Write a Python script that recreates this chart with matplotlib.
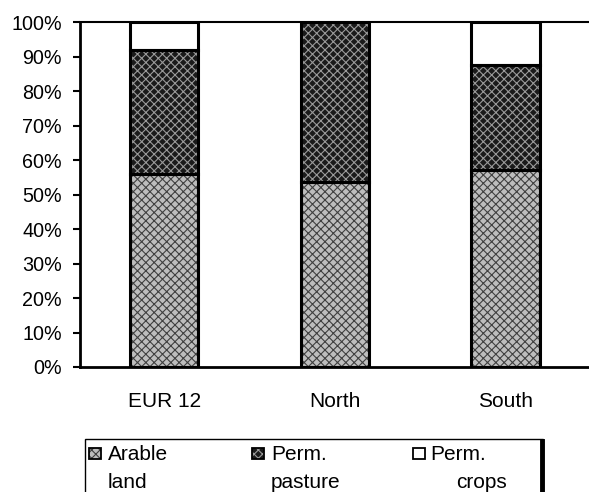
import matplotlib
matplotlib.use("Agg")
import matplotlib.pyplot as plt
from matplotlib.patches import Rectangle
from matplotlib.lines import Line2D
import numpy as np

plt.rcParams['font.family'] = ['Liberation Sans', 'DejaVu Sans']
plt.rcParams['hatch.linewidth'] = 0.8

categories = ["EUR 12", "North", "South"]
arable = [56.0, 53.5, 57.0]
pasture = [36.0, 46.5, 30.5]
crops = [8.0, 0.0, 12.5]
yticklabels = ["0%", "10%", "20%", "30%", "40%", "50%", "60%", "70%", "80%", "90%", "100%"]
series_names = [("Arable", "land"), ("Perm.", "pasture"), ("Perm.", "crops")]

W, H = 589, 492
fig = plt.figure(figsize=(W / 100, H / 100), dpi=100)
ax = fig.add_axes([80 / W, 1 - 367 / H, 1 - 80 / W, (367 - 22) / H])

x = np.arange(len(categories))
bw = 0.4
styles = [
    dict(facecolor="#bdbdbd", hatch="xxxx", edgecolor="#404040"),
    dict(facecolor="#1a1a1a", hatch="xxxx", edgecolor="#9a9a9a"),
    dict(facecolor="white", hatch=None, edgecolor="white"),
]
bottom = np.zeros(len(categories))
for vals, st in zip([arable, pasture, crops], styles):
    vals = np.array(vals)
    ax.bar(x, vals, bw, bottom=bottom, linewidth=0, zorder=2, **st)
    ax.bar(x, vals, bw, bottom=bottom, fill=False, edgecolor="black", linewidth=2.2, zorder=3)
    bottom = bottom + vals

ax.set_xlim(-0.493, 2.49)
ax.set_ylim(0, 100)
ax.set_yticks(np.arange(0, 101, 10))
ax.set_yticklabels(yticklabels, fontsize=14.2)
ax.set_xticks(x)
ax.set_xticklabels(categories, fontsize=15)
ax.tick_params(axis="x", length=0, pad=18)
ax.tick_params(axis="y", direction="out", length=5, width=1.5, pad=8)

for s in ["left", "bottom"]:
    ax.spines[s].set_linewidth(2)
ax.spines["right"].set_visible(False)
ax.spines["top"].set_linestyle((0, (1, 1)))
ax.spines["top"].set_linewidth(1.5)

# legend box (manual)
def fx(px):
    return px / W

def fy(py):
    return 1 - py / H

fig.patches.append(Rectangle((fx(85), fy(500)), fx(543) - fx(85), fy(439) - fy(500),
                             transform=fig.transFigure, fill=False, edgecolor="black",
                             linewidth=1.0))
fig.lines.append(Line2D([fx(542), fx(542)], [fy(441), fy(492)], transform=fig.transFigure,
                        color="black", linewidth=3.5))

mk_x = [89, 252, 413]
txt_x = [108, 271, 430]
line2_x = [108, 271, 456]
for i, (l1, l2) in enumerate(series_names):
    st = styles[i]
    fig.patches.append(Rectangle((fx(mk_x[i]), fy(459)), fx(12), 11 / H, transform=fig.transFigure,
                                 facecolor=st["facecolor"], hatch=st["hatch"],
                                 edgecolor=st["edgecolor"], linewidth=0))
    fig.patches.append(Rectangle((fx(mk_x[i]), fy(459)), fx(12), 11 / H, transform=fig.transFigure,
                                 fill=False, edgecolor="black", linewidth=1.3))
    fig.text(fx(txt_x[i]), fy(455), l1, fontsize=15, ha="left", va="center")
    fig.text(fx(line2_x[i]), fy(482), l2, fontsize=15, ha="left", va="center")

fig.savefig("out.png", dpi=100)
